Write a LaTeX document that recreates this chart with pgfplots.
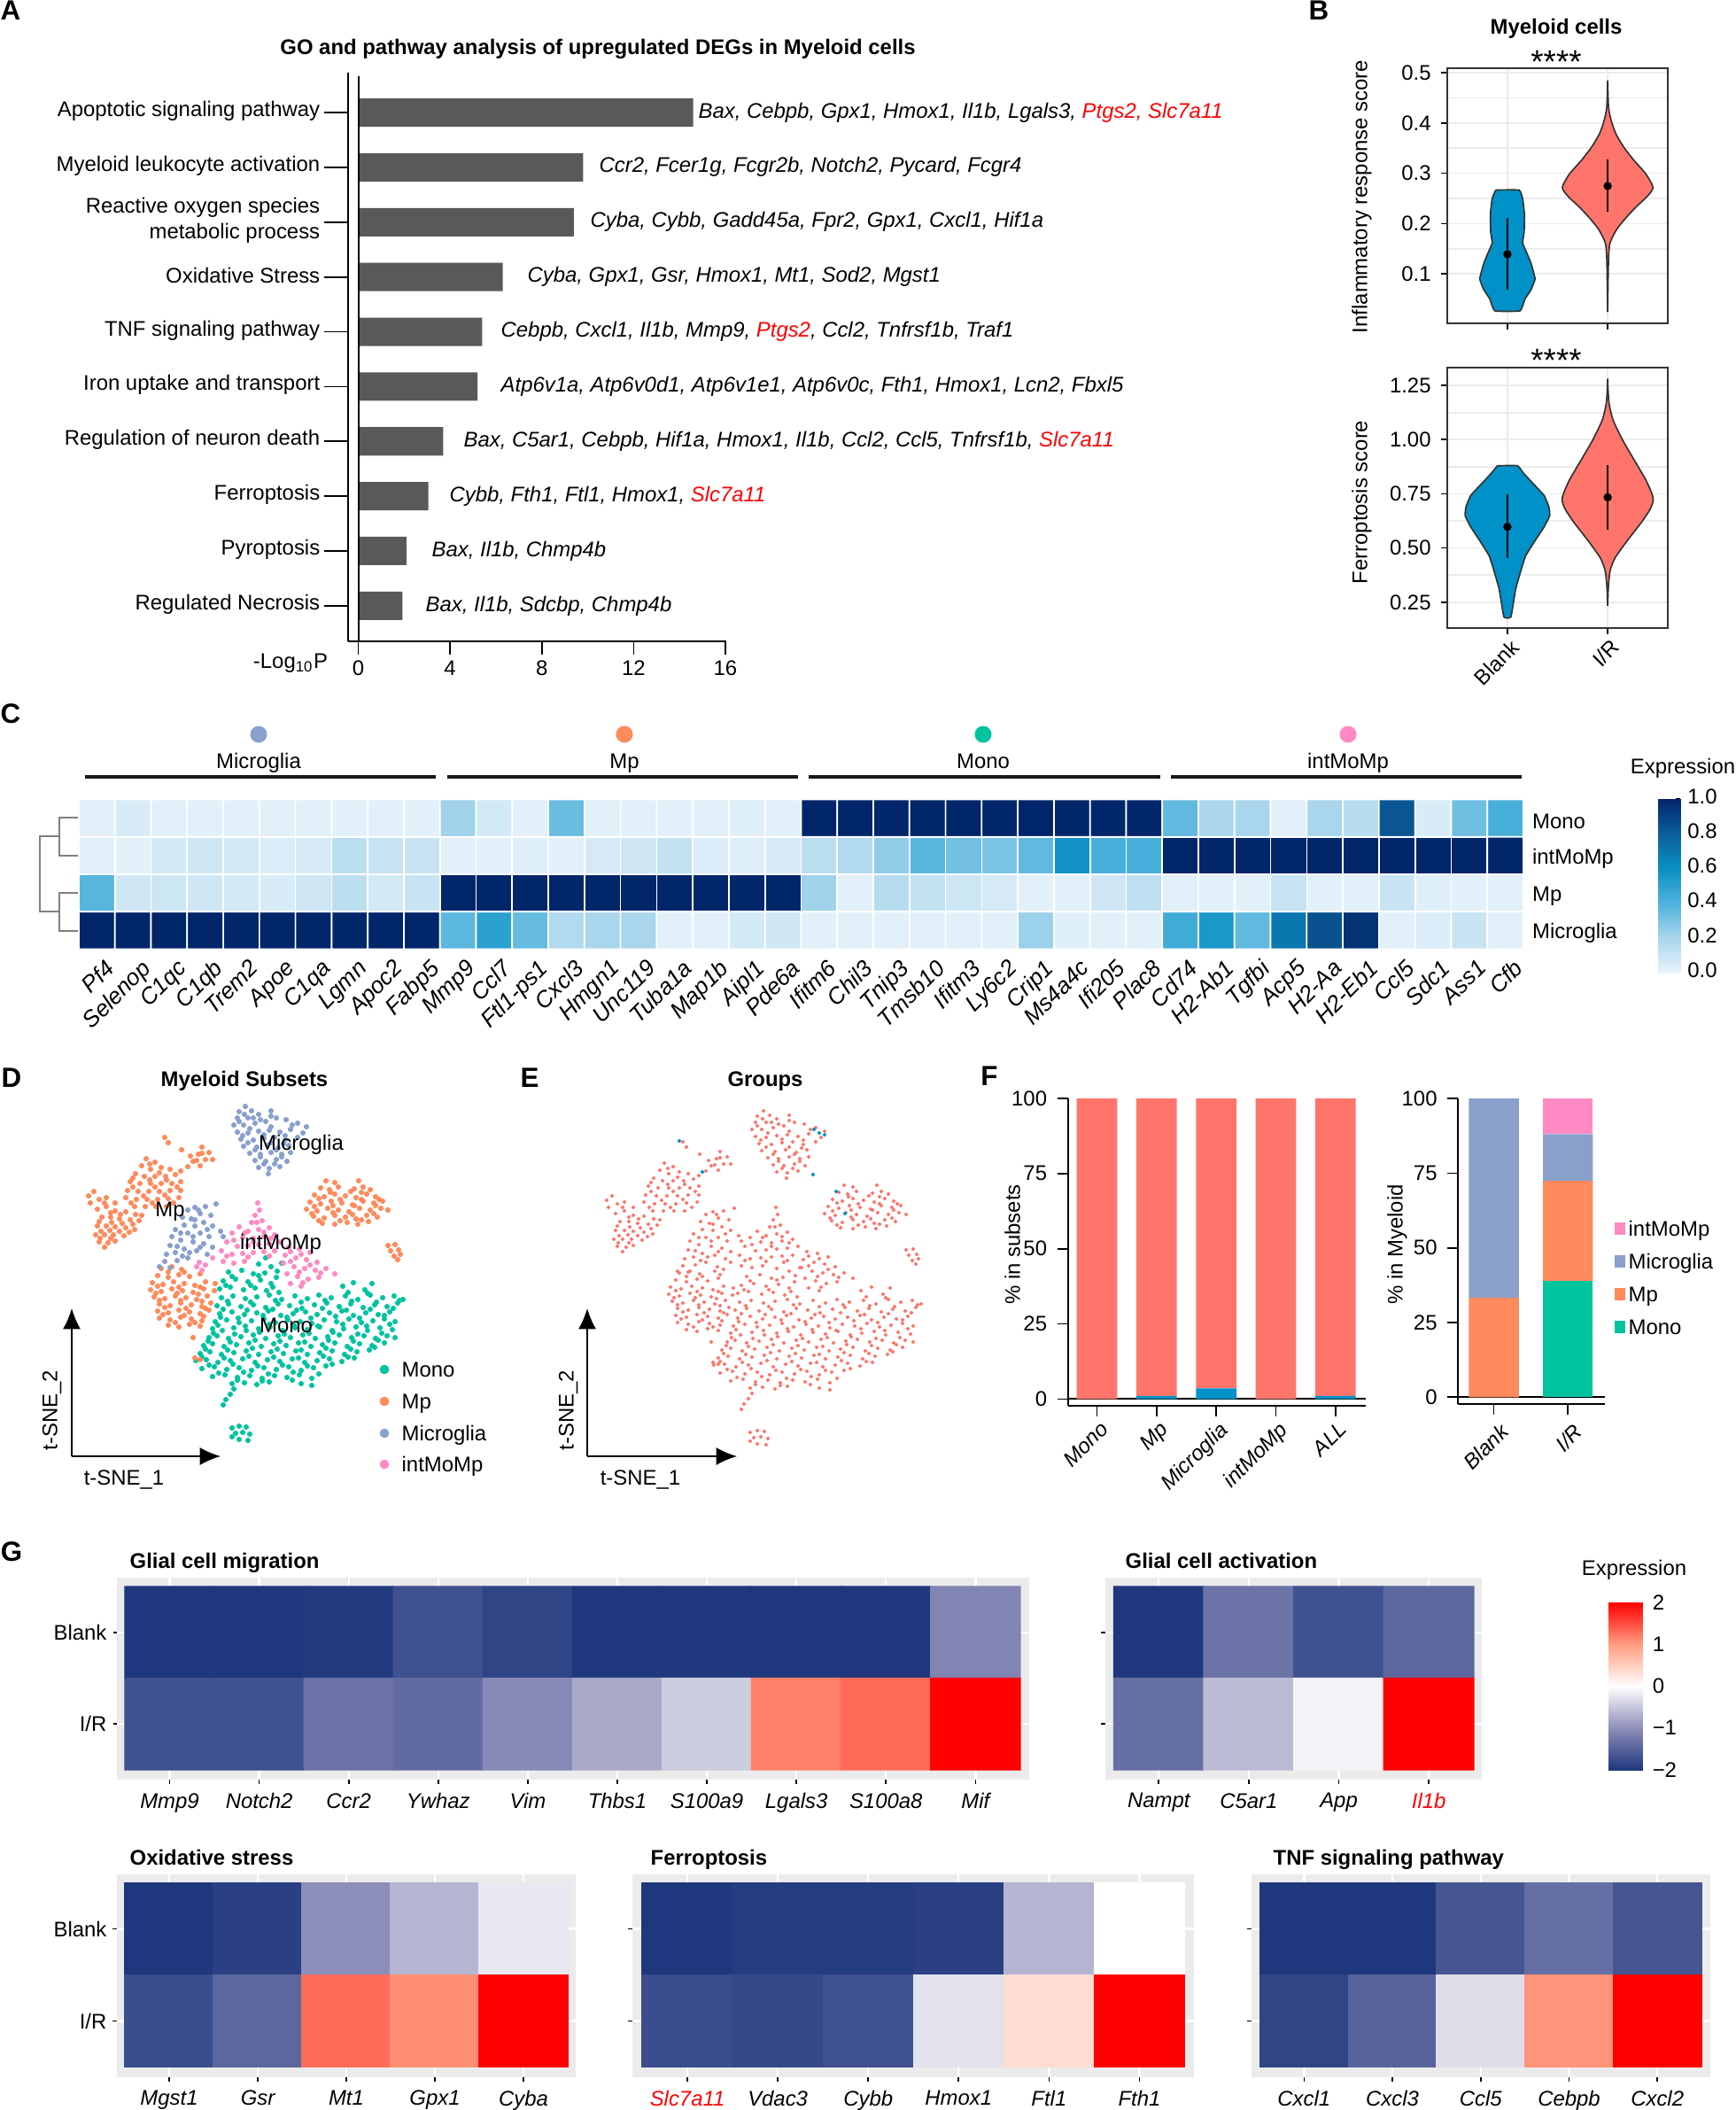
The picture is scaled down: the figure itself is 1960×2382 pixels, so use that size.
\documentclass[border=0pt]{standalone}
\usepackage{fontspec}
\setmainfont{Liberation Sans}
\usepackage{pgfplots}
\usepackage{pgfplotstable}
\pgfplotsset{compat=1.18}
\usetikzlibrary{arrows.meta}
\newcommand\fs{\fontsize{7.17}{8.6}\selectfont}
\definecolor{cmono}{HTML}{00C3A0}
\definecolor{cmp}{HTML}{FF8A5C}
\definecolor{cmic}{HTML}{8AA0CC}
\definecolor{cint}{HTML}{FF8AC3}
\definecolor{vblue}{HTML}{0091C8}
\definecolor{vred}{HTML}{FF756B}
\definecolor{dkbar}{HTML}{595959}
\definecolor{bgg}{HTML}{EBEBEB}
\pgfplotsset{
  /pgf/number format/assume math mode=true,
  tick label style={font=\fs},
  tick style={black,line width=.5pt},
  colormap={blues}{rgb255=(232,243,251) rgb255=(169,214,236) rgb255=(79,178,220) rgb255=(10,144,196) rgb255=(12,95,154) rgb255=(2,38,106)},
  colormap={rdbu}{rgb255=(31,56,125) rgb255=(141,141,185) rgb255=(255,255,255) rgb255=(255,156,128) rgb255=(255,0,0)},
  box/.style n args={4}{scale only axis,anchor=south west,
    at={({#1*0.3pt},{-#4*0.3pt})},width={(#3-#1)*0.3pt},height={(#4-#2)*0.3pt}},
  hm/.style={colormap name=rdbu,point meta min=-2,point meta max=2,y dir=reverse,
    axis background/.style={fill=bgg},grid=major,grid style={white,line width=.7pt},
    axis line style={draw=none},tick align=outside,major tick length=1.5pt,
    ytick={0,1},ymin=-.597,ymax=1.606,xtick pos=bottom,ytick pos=left,
    xticklabel style={font=\fs\itshape,yshift=.4pt},yticklabel style={xshift=1.4pt},clip=false},
  vio/.style={xmin=-.6,xmax=1.6,xtick={0,1},minor y tick num=1,ymajorgrids,yminorgrids,xmajorgrids,
    grid style={bgg,line width=.5pt},minor tick length=0pt,axis line style={line width=.6pt,black!80},
    tick align=outside,major tick length=2pt,xtick pos=bottom,ytick pos=left,clip=false},
  stk/.style={ybar stacked,axis lines*=left,tick align=outside,major tick length=3.5pt,
    axis line style={line width=.6pt},ymax=100,xtick pos=bottom,ytick pos=left,
    ytick={0,25,50,75,100},clip=false,
    xticklabel style={font=\fs\itshape,rotate=45,anchor=north east}},
}
\newcommand\hmap[2]{\addplot[matrix plot*,mesh/cols=#1,point meta=explicit]
  table[x expr={mod(\coordindex,#1)},y expr={floor((\coordindex+.5)/#1)},meta=z,row sep=\\]{z\\#2};}

\pgfplotstableread[row sep=\\]{x y\\
300 1420\\ 292 1427\\ 306 1430\\ 318 1426\\ 258 1436\\ 273 1434\\ 286 1438\\ 299 1437\\ 313 1435\\ 252 1446\\ 266 1444\\ 280 1447\\ 294 1445\\ 306 1449\\ 248 1455\\ 260 1453\\ 275 1456\\ 288 1454\\ 301 1457\\ 315 1459\\ 387 1452\\ 399 1448\\ 412 1456\\ 420 1449\\
250 1465\\ 263 1463\\ 277 1466\\ 290 1464\\ 304 1462\\ 318 1467\\ 333 1463\\ 347 1466\\ 360 1462\\ 374 1465\\ 390 1463\\ 404 1467\\ 418 1462\\ 432 1465\\ 445 1463\\ 455 1467\\
245 1474\\ 258 1472\\ 272 1475\\ 286 1473\\ 300 1476\\ 314 1472\\ 327 1474\\ 341 1477\\ 355 1473\\ 369 1471\\ 383 1475\\ 396 1472\\ 410 1476\\ 423 1473\\ 437 1475\\ 449 1471\\
248 1483\\ 262 1481\\ 276 1484\\ 290 1482\\ 303 1480\\ 317 1485\\ 331 1483\\ 345 1481\\ 358 1484\\ 372 1482\\ 386 1480\\ 399 1485\\ 413 1482\\ 427 1484\\ 440 1481\\
243 1492\\ 256 1490\\ 270 1493\\ 284 1491\\ 298 1489\\ 311 1493\\ 325 1490\\ 339 1492\\ 352 1494\\ 366 1490\\ 380 1492\\ 394 1489\\ 408 1493\\ 421 1491\\ 434 1489\\ 446 1492\\
240 1500\\ 251 1502\\ 264 1499\\ 278 1502\\ 292 1500\\ 305 1498\\ 319 1502\\ 333 1499\\ 347 1501\\ 361 1498\\ 375 1502\\ 388 1500\\ 402 1498\\ 415 1502\\ 429 1499\\ 443 1501\\
236 1510\\ 245 1508\\ 258 1511\\ 272 1509\\ 286 1507\\ 300 1511\\ 314 1508\\ 328 1510\\ 342 1507\\ 356 1511\\ 370 1509\\ 383 1507\\ 397 1510\\ 411 1508\\ 424 1511\\ 437 1508\\ 446 1510\\
230 1519\\ 240 1517\\ 253 1520\\ 267 1518\\ 281 1516\\ 295 1520\\ 309 1517\\ 323 1519\\ 337 1516\\ 351 1520\\ 364 1518\\ 378 1516\\ 392 1520\\ 406 1517\\ 420 1519\\ 434 1516\\
226 1528\\ 237 1526\\ 250 1529\\ 264 1527\\ 278 1525\\ 292 1529\\ 306 1526\\ 320 1528\\ 334 1525\\ 347 1529\\ 361 1527\\ 375 1525\\ 389 1529\\ 403 1526\\ 417 1524\\
221 1536\\ 233 1535\\ 246 1538\\ 260 1536\\ 274 1534\\ 288 1538\\ 302 1535\\ 316 1537\\ 330 1534\\ 344 1538\\ 358 1536\\ 372 1534\\ 386 1537\\ 400 1533\\
228 1545\\ 242 1543\\ 256 1546\\ 270 1544\\ 284 1547\\ 298 1544\\ 312 1546\\ 326 1543\\ 340 1547\\ 354 1544\\ 368 1542\\
240 1554\\ 254 1552\\ 268 1555\\ 282 1553\\ 296 1556\\ 310 1553\\ 324 1555\\ 338 1552\\ 352 1556\\ 262 1562\\ 276 1561\\ 290 1563\\ 304 1560\\ 340 1562\\ 352 1564\\
264 1568\\ 260 1574\\ 255 1580\\ 252 1586\\ 262 1612\\ 270 1610\\ 278 1611\\ 266 1618\\ 274 1617\\ 282 1619\\ 270 1625\\ 280 1626\\ 262 1622\\
257 1469\\ 283 1470\\ 311 1468\\ 340 1470\\ 367 1468\\ 397 1469\\ 425 1470\\ 451 1468\\ 252 1478\\ 279 1479\\ 308 1478\\ 335 1479\\ 364 1477\\ 391 1479\\ 418 1478\\ 444 1477\\ 249 1487\\ 269 1488\\ 297 1485\\ 324 1487\\ 351 1488\\ 379 1486\\ 406 1488\\ 434 1485\\ 246 1496\\ 277 1497\\ 304 1495\\ 332 1496\\ 359 1497\\ 387 1495\\ 414 1497\\ 440 1495\\ 241 1505\\ 265 1506\\ 293 1504\\ 321 1506\\ 349 1505\\ 376 1504\\ 404 1506\\ 431 1505\\ 235 1514\\ 260 1515\\ 288 1513\\ 316 1514\\ 344 1515\\ 371 1513\\ 399 1514\\ 427 1513\\ 232 1523\\ 257 1524\\ 285 1522\\ 313 1523\\ 340 1524\\ 368 1522\\ 396 1523\\ 423 1521\\ 228 1532\\ 253 1533\\ 281 1531\\ 309 1532\\ 337 1533\\ 365 1531\\ 393 1532\\ 236 1541\\ 263 1540\\ 291 1542\\ 319 1541\\ 347 1542\\ 375 1540\\ 247 1550\\ 275 1549\\ 303 1551\\ 331 1549\\ 360 1551\\ 268 1558\\ 296 1559\\ 330 1558\\ 262 1441\\ 292 1440\\ 312 1442\\ 255 1451\\ 283 1451\\ 308 1453\\ 393 1459\\ 415 1460\\
}\tmono
\pgfplotstableread[row sep=\\]{x y\\
186 1284\\ 190 1290\\ 205 1298\\ 228 1295\\ 236 1301\\ 224 1303\\ 232 1309\\ 240 1309\\ 218 1311\\ 226 1316\\ 212 1317\\ 204 1322\\ 165 1308\\ 175 1312\\ 160 1316\\ 170 1320\\ 182 1318\\ 192 1320\\ 153 1325\\ 163 1328\\ 175 1328\\ 187 1328\\ 198 1326\\ 147 1334\\ 158 1336\\ 170 1336\\ 182 1336\\ 194 1336\\ 204 1334\\ 144 1344\\ 156 1345\\ 168 1345\\ 180 1345\\ 192 1344\\ 204 1344\\ 142 1352\\ 154 1354\\ 166 1354\\ 178 1354\\ 190 1353\\ 202 1352\\ 100 1350\\ 106 1345\\ 112 1354\\ 102 1358\\ 120 1352\\ 130 1358\\ 152 1362\\ 164 1362\\ 176 1362\\ 188 1362\\ 110 1365\\ 120 1362\\ 130 1367\\ 142 1368\\ 160 1372\\ 115 1374\\ 125 1374\\ 135 1376\\ 147 1377\\ 157 1378\\ 110 1384\\ 120 1384\\ 130 1385\\ 142 1386\\ 152 1388\\ 108 1394\\ 118 1394\\ 128 1394\\ 140 1395\\ 112 1402\\ 122 1403\\ 130 1401\\ 118 1408\\
368 1333\\ 378 1335\\ 405 1333\\ 362 1341\\ 372 1343\\ 382 1340\\ 400 1342\\ 410 1340\\ 418 1343\\ 355 1349\\ 366 1351\\ 378 1348\\ 390 1350\\ 402 1352\\ 414 1348\\ 424 1351\\ 350 1357\\ 362 1359\\ 374 1356\\ 386 1358\\ 398 1360\\ 410 1356\\ 422 1358\\ 432 1356\\ 346 1365\\ 358 1367\\ 370 1364\\ 382 1366\\ 394 1368\\ 406 1364\\ 418 1366\\ 430 1364\\ 438 1366\\ 354 1373\\ 366 1375\\ 378 1372\\ 390 1374\\ 402 1376\\ 414 1372\\ 426 1374\\ 364 1381\\ 378 1382\\ 392 1380\\ 404 1382\\ 416 1379\\
438 1406\\ 446 1405\\ 441 1412\\ 450 1411\\ 445 1418\\ 452 1416\\ 449 1422\\
182 1432\\ 194 1430\\ 205 1433\\ 178 1440\\ 190 1442\\ 202 1439\\ 214 1441\\ 226 1438\\ 172 1448\\ 184 1450\\ 196 1447\\ 208 1449\\ 220 1451\\ 232 1447\\ 243 1449\\ 170 1456\\ 182 1458\\ 194 1455\\ 206 1457\\ 218 1459\\ 230 1455\\ 242 1457\\ 174 1464\\ 186 1466\\ 198 1463\\ 210 1465\\ 222 1467\\ 234 1463\\ 180 1472\\ 192 1474\\ 204 1471\\ 216 1473\\ 228 1475\\ 238 1471\\ 178 1480\\ 190 1482\\ 202 1479\\ 214 1481\\ 226 1483\\ 236 1479\\ 180 1488\\ 192 1490\\ 204 1487\\ 216 1489\\ 228 1491\\ 190 1496\\ 202 1498\\ 214 1495\\ 226 1497\\ 218 1510\\ 220 1533\\ 226 1535\\
150 1330\\ 169 1332\\ 188 1332\\ 200 1340\\ 150 1340\\ 175 1340\\ 162 1350\\ 186 1349\\ 148 1358\\ 172 1358\\ 196 1358\\ 118 1358\\ 125 1369\\ 136 1371\\ 153 1371\\ 112 1379\\ 126 1380\\ 138 1381\\ 150 1382\\ 114 1390\\ 124 1389\\ 135 1390\\ 146 1391\\ 113 1398\\ 125 1398\\ 180 1324\\ 169 1314\\ 215 1305\\ 228 1302\\ 222 1310\\ 373 1346\\ 396 1345\\ 408 1346\\ 360 1353\\ 384 1354\\ 408 1354\\ 428 1354\\ 355 1362\\ 376 1361\\ 400 1361\\ 424 1361\\ 352 1370\\ 376 1369\\ 398 1371\\ 422 1370\\ 360 1378\\ 384 1378\\ 408 1377\\ 190 1436\\ 208 1436\\ 178 1452\\ 202 1453\\ 226 1453\\ 176 1460\\ 200 1460\\ 224 1461\\ 180 1468\\ 204 1468\\ 228 1469\\ 186 1476\\ 210 1477\\ 232 1477\\ 184 1484\\ 208 1485\\ 230 1486\\ 198 1493\\ 220 1493\\
}\tmp
\pgfplotstableread[row sep=\\]{x y\\
277 1249\\ 270 1255\\ 284 1254\\ 268 1262\\ 280 1262\\ 292 1258\\ 306 1254\\ 264 1270\\ 275 1270\\ 288 1268\\ 300 1266\\ 312 1262\\ 323 1264\\ 336 1268\\ 346 1272\\ 268 1278\\ 280 1279\\ 292 1277\\ 304 1276\\ 316 1278\\ 328 1275\\ 342 1279\\ 272 1286\\ 286 1287\\ 298 1285\\ 310 1284\\ 322 1287\\ 336 1284\\ 275 1294\\ 290 1295\\ 302 1293\\ 314 1296\\ 326 1293\\ 282 1302\\ 294 1303\\ 306 1301\\ 318 1303\\ 328 1301\\ 288 1310\\ 300 1311\\ 312 1309\\ 324 1311\\ 292 1318\\ 304 1319\\ 316 1317\\ 303 1325\\
244 1359\\ 232 1362\\ 220 1363\\ 212 1366\\ 226 1370\\ 238 1372\\ 216 1376\\ 206 1374\\ 230 1380\\ 240 1384\\ 220 1384\\ 208 1383\\ 198 1388\\ 212 1392\\ 226 1392\\ 236 1396\\ 194 1396\\ 204 1400\\ 218 1402\\ 230 1404\\ 240 1408\\ 192 1406\\ 208 1410\\ 222 1412\\ 234 1416\\ 198 1414\\ 188 1416\\ 212 1420\\ 200 1423\\ 186 1424\\ 180 1430\\ 192 1431\\ 249 1390\\ 252 1396\\
276 1258\\ 286 1262\\ 270 1266\\ 294 1264\\ 306 1260\\ 282 1274\\ 306 1272\\ 330 1270\\ 274 1282\\ 298 1281\\ 322 1282\\ 280 1290\\ 306 1290\\ 320 1291\\ 288 1298\\ 312 1298\\ 294 1306\\ 318 1306\\ 298 1314\\ 310 1314\\ 224 1366\\ 220 1377\\ 234 1388\\ 204 1392\\ 218 1396\\ 200 1407\\ 226 1408\\ 214 1414\\ 206 1418\\
}\tmic
\pgfplotstableread[row sep=\\]{x y\\
291 1358\\ 293 1366\\ 288 1372\\ 296 1378\\ 284 1380\\ 270 1385\\ 280 1390\\ 292 1388\\ 304 1386\\ 262 1392\\ 274 1397\\ 286 1398\\ 298 1396\\ 310 1394\\ 316 1402\\ 256 1402\\ 268 1407\\ 280 1406\\ 292 1405\\ 304 1404\\ 326 1408\\ 338 1410\\ 350 1414\\ 250 1412\\ 262 1416\\ 274 1415\\ 286 1414\\ 298 1413\\ 310 1412\\ 322 1417\\ 334 1420\\ 346 1422\\ 358 1425\\ 240 1420\\ 252 1424\\ 264 1426\\ 276 1424\\ 320 1426\\ 332 1430\\ 344 1432\\ 356 1434\\ 368 1432\\ 378 1438\\ 324 1438\\ 336 1441\\ 348 1444\\ 360 1442\\ 328 1449\\ 340 1452\\ 225 1425\\ 228 1434\\ 222 1430\\ 232 1428\\
290 1380\\ 276 1392\\ 298 1391\\ 264 1400\\ 286 1402\\ 306 1398\\ 256 1418\\ 280 1419\\ 304 1418\\ 328 1413\\ 340 1416\\ 328 1424\\ 350 1428\\ 338 1436\\ 362 1437\\ 342 1448\\
}\tint

\begin{document}
\begin{tikzpicture}[x=0.3pt,y=-0.3pt,txt/.style={font=\fs,inner sep=0pt,text height=.72em,text depth=.2em},gene/.style={font=\fs\itshape,inner sep=0pt,anchor=west,text height=.72em,text depth=.2em},lab/.style={font=\fontsize{9.4}{10}\selectfont\bfseries,inner sep=0pt}]
\useasboundingbox (0,0) rectangle (1960,2382);

% A
\begin{axis}[box={393}{82}{820.5}{724},xbar,bar width=0.518,xmin=-.444,xmax=16.06,ymin=-.65,ymax=9.73,
  axis lines*=left,axis line style={line width=.6pt},tick align=outside,major tick length=4.5pt,
  xtick={0,4,8,12,16},xticklabels={0,4,8,12\hspace{4pt},16\hspace{4pt}},xticklabel style={yshift=1.5pt},ytick={0,...,9},clip=false,
  yticklabels={Regulated Necrosis,Pyroptosis,Ferroptosis,Regulation of neuron death,Iron uptake and transport,TNF signaling pathway,Oxidative Stress,{\raisebox{-4.1pt}{\begin{tabular}{@{}r@{}}Reactive oxygen species\\metabolic process\end{tabular}}},Myeloid leukocyte activation,Apoptotic signaling pathway},
  yticklabel style={align=right,yshift=.5pt,xshift=-1.5pt}]
\addplot[fill=dkbar,draw=none] coordinates {(1.93,0)(2.1,1)(3.05,2)(3.7,3)(5.2,4)(5.4,5)(6.3,6)(9.4,7)(9.8,8)(14.6,9)};
\draw[line width=.6pt] (axis cs:0,-.65) -- (axis cs:0,9.66);
\foreach \k in {0,...,9}{\edef\tmpd{\noexpand\draw[line width=.5pt] (axis cs:-.444,\k) -- ([xshift=-8pt]axis cs:-.444,\k);}\tmpd}
\end{axis}
\node[txt,font=\fs\bfseries] at (675,53) {GO and pathway analysis of upregulated DEGs in Myeloid cells};
\node[gene] at (788,125) {Bax, Cebpb, Gpx1, Hmox1, Il1b, Lgals3, \textcolor{red}{Ptgs2, Slc7a11}};
\node[gene] at (676,186) {Ccr2, Fcer1g, Fcgr2b, Notch2, Pycard, Fcgr4};
\node[gene] at (666,248) {Cyba, Cybb, Gadd45a, Fpr2, Gpx1, Cxcl1, Hif1a};
\node[gene] at (595,310) {Cyba, Gpx1, Gsr, Hmox1, Mt1, Sod2, Mgst1};
\node[gene] at (565,372) {Cebpb, Cxcl1, Il1b, Mmp9, \textcolor{red}{Ptgs2}, Ccl2, Tnfrsf1b, Traf1};
\node[gene] at (565,434) {Atp6v1a, Atp6v0d1, Atp6v1e1, Atp6v0c, Fth1, Hmox1, Lcn2, Fbxl5};
\node[gene] at (523,496) {Bax, C5ar1, Cebpb, Hif1a, Hmox1, Il1b, Ccl2, Ccl5, Tnfrsf1b, \textcolor{red}{Slc7a11}};
\node[gene] at (507,558) {Cybb, Fth1, Ftl1, Hmox1, \textcolor{red}{Slc7a11}};
\node[gene] at (487,620) {Bax, Il1b, Chmp4b};
\node[gene] at (480,682) {Bax, Il1b, Sdcbp, Chmp4b};
\node[txt] at (328,746) {-Log\textsubscript{10}P};

% B
\begin{axis}[box={1634}{77}{1883}{365},vio,ymin=.0016,ymax=.509,ytick={.1,.2,.3,.4,.5},yticklabels={0.1,0.2,0.3,0.4,0.5},xticklabels={,}]
\addplot[fill=vblue,draw=black!80,line width=.5pt,smooth,tension=.2] coordinates {(-.117,.2667)(-.152,.2499)(-.170,.2188)(-.167,.1834)(-.152,.1612)(-.199,.139)(-.235,.1213)(-.276,.0902)(-.235,.0681)(-.176,.0503)(-.126,.0264)(.126,.0264)(.176,.0503)(.235,.0681)(.276,.0902)(.235,.1213)(.199,.139)(.152,.1612)(.167,.1834)(.170,.2188)(.152,.2499)(.117,.2667)(-.117,.2667)};
\addplot[fill=vred,draw=black!80,line width=.5pt,smooth,tension=.4] coordinates {(1,.485)(.991,.4317)(.965,.405)(.918,.3785)(.839,.3519)(.736,.3253)(.619,.2987)(.548,.272)(.604,.2543)(.721,.2322)(.824,.21)(.912,.1878)(.977,.1612)(.991,.1302)(.997,.068)(1,.0237)(1.003,.068)(1.009,.1302)(1.023,.1612)(1.088,.1878)(1.176,.21)(1.279,.2322)(1.396,.2543)(1.452,.272)(1.381,.2987)(1.264,.3253)(1.161,.3519)(1.082,.3785)(1.035,.405)(1.009,.4317)(1,.485)};
\addplot[black,line width=.7pt] coordinates {(0,.2117)(0,.068)};
\addplot[black,line width=.7pt] coordinates {(1,.327)(1,.2233)};
\addplot[only marks,mark=*,mark size=1.2pt,black] coordinates {(0,.139)(1,.2747)};
\end{axis}
\begin{axis}[box={1634}{415}{1883}{709},vio,ymin=.1307,ymax=1.332,ytick={.25,.5,.75,1,1.25},yticklabels={0.25,0.50,0.75,1.00,1.25},xticklabels={Blank,I/R},xticklabel style={rotate=45,anchor=north east,xshift=3pt,yshift=2pt}]
\addplot[fill=vblue,draw=black!80,line width=.5pt,smooth,tension=.2] coordinates {(-.100,.8796)(-.161,.8447)(-.264,.7932)(-.367,.7418)(-.413,.6903)(-.422,.6492)(-.367,.5977)(-.279,.536)(-.182,.464)(-.132,.392)(-.082,.3097)(-.035,.182)(.035,.182)(.082,.3097)(.132,.392)(.182,.464)(.279,.536)(.367,.5977)(.422,.6492)(.413,.6903)(.367,.7418)(.264,.7932)(.161,.8447)(.100,.8796)(-.100,.8796)};
\addplot[fill=vred,draw=black!80,line width=.5pt,smooth,tension=.4] coordinates {(1,1.281)(.988,1.174)(.947,1.0916)(.853,1.0)(.736,.9064)(.619,.8138)(.56,.752)(.545,.7212)(.575,.68)(.663,.6183)(.801,.536)(.927,.4537)(.977,.392)(.994,.3097)(1,.2335)(1.006,.3097)(1.023,.392)(1.073,.4537)(1.199,.536)(1.337,.6183)(1.425,.68)(1.455,.7212)(1.44,.752)(1.381,.8138)(1.264,.9064)(1.147,1.0)(1.053,1.0916)(1.012,1.174)(1,1.281)};
\addplot[black,line width=.7pt] coordinates {(0,.748)(0,.4537)};
\addplot[black,line width=.7pt] coordinates {(1,.8817)(1,.5854)};
\addplot[only marks,mark=*,mark size=1.2pt,black] coordinates {(0,.5977)(1,.7335)};
\end{axis}
\node[txt,font=\fs\bfseries] at (1757,30) {Myeloid cells};
\node[inner sep=0pt,font=\fontsize{11}{12}\selectfont] at (1757,70) {****};
\node[inner sep=0pt,font=\fontsize{11}{12}\selectfont] at (1757,407) {****};
\node[txt,rotate=90] at (1535,222) {Inflammatory response score};
\node[txt,rotate=90] at (1535,567) {Ferroptosis score};

% C
\begin{axis}[box={89}{902.5}{1720}{1071.5},colormap name=blues,point meta min=0,point meta max=1,
  y dir=reverse,xmin=-.5,xmax=39.5,ymin=-.5,ymax=3.5,axis line style={draw=none},major tick length=0pt,
  xtick={0,...,39},ytick={0,1,2,3},yticklabel pos=right,yticklabels={Mono,intMoMp,Mp,Microglia},
  yticklabel style={xshift=-.5pt,yshift=-1pt},
  xticklabels={Pf4,Selenop,C1qc,C1qb,Trem2,Apoe,C1qa,Lgmn,Apoc2,Fabp5,Mmp9,Ccl7,Ftl1-ps1,Cxcl3,Hmgn1,Unc119,Tuba1a,Map1b,Aipl1,Pde6a,Ifitm6,Chil3,Tnip3,Tmsb10,Ifitm3,Ly6c2,Crip1,Ms4a4c,Ifi205,Plac8,Cd74,H2-Ab1,Tgfbi,Acp5,H2-Aa,H2-Eb1,Ccl5,Sdc1,Ass1,Cfb},
  xticklabel style={font=\fontsize{7.8}{9}\selectfont\itshape,rotate=45,anchor=north east,xshift=3pt,yshift=-.3pt},clip=false]
\addplot[matrix plot*,mesh/cols=40,point meta=explicit,draw=white,line width=.5pt]
  table[x expr={mod(\coordindex,40)},y expr={floor((\coordindex+.5)/40)},meta=z,row sep=\\]{z\\
.02\\.05\\.02\\.02\\.02\\.02\\.02\\.02\\.02\\.02\\.22\\.07\\.02\\.34\\.02\\.02\\.02\\.02\\.03\\.02\\1\\1\\1\\1\\1\\1\\1\\1\\1\\1\\.36\\.19\\.2\\.02\\.2\\.15\\.83\\.05\\.33\\.42\\
.02\\.02\\.07\\.08\\.07\\.04\\.05\\.14\\.11\\.1\\.02\\.02\\.03\\.02\\.06\\.08\\.12\\.04\\.03\\.05\\.14\\.17\\.25\\.38\\.32\\.3\\.36\\.58\\.42\\.42\\1\\1\\1\\1\\1\\1\\1\\1\\1\\1\\
.38\\.08\\.09\\.08\\.07\\.05\\.08\\.14\\.07\\.1\\1\\1\\1\\1\\1\\1\\1\\1\\1\\1\\.22\\.02\\.16\\.12\\.09\\.06\\.02\\.02\\.08\\.13\\.02\\.02\\.02\\.11\\.02\\.02\\.1\\.03\\.02\\.02\\
1\\1\\1\\1\\1\\1\\1\\1\\1\\1\\.37\\.5\\.35\\.17\\.2\\.2\\.02\\.02\\.07\\.08\\.02\\.02\\.02\\.02\\.02\\.02\\.23\\.03\\.02\\.02\\.44\\.55\\.36\\.7\\.85\\.95\\.02\\.04\\.1\\.02\\
};
\end{axis}
\foreach \a/\b/\c/\t/\d in {96/492/292/Microglia/cmic,505/901/705/Mp/cmp,913/1310/1110/Mono/cmono,1322/1718/1522/intMoMp/cint}{
  \draw[line width=1pt,black!90] (\a,877) -- (\b,877);
  \node[txt] at (\c,859) {\t};
  \fill[\d] (\c,829) circle[radius=2.85pt];
}
\draw[gray,line width=.7pt] (88,923)--(67,923)--(67,966)--(88,966) (88,1008)--(67,1008)--(67,1051)--(88,1051) (67,944)--(45,944)--(45,1029)--(67,1029);
\begin{axis}[box={1872}{902}{1897}{1098},axis x line=none,axis y line*=right,ymin=0,ymax=1,xmin=0,xmax=1,
  colormap name=blues,point meta min=0,point meta max=1,ytick={0,.2,.4,.6,.8,1},yticklabels={0.0,0.2,0.4,0.6,0.8,1.0},
  major tick length=1.5pt,yticklabel style={xshift=-1pt,yshift=.9pt}]
\addplot[surf,shader=interp,mesh/cols=2,point meta=explicit] coordinates {(0,0)[0](1,0)[0](0,1)[1](1,1)[1]};
\end{axis}
\node[txt] at (1900,865) {Expression};

% D
\begin{axis}[box={0}{1235}{500}{1640},hide axis,xmin=0,xmax=500,ymin=1235,ymax=1640,y dir=reverse,clip=false]
\addplot[only marks,mark=*,mark size=.7pt,cmono] table {\tmono};
\addplot[only marks,mark=*,mark size=.7pt,cmp] table {\tmp};
\addplot[only marks,mark=*,mark size=.7pt,cmic] table {\tmic};
\addplot[only marks,mark=*,mark size=.7pt,cint] table {\tint};
\end{axis}
\node[txt] at (340,1290) {Microglia};
\node[txt] at (192,1365) {Mp};
\node[txt] at (317,1402) {intMoMp};
\node[txt] at (323,1496) {Mono};
\node[txt,font=\fs\bfseries] at (276,1218) {Myeloid Subsets};
\foreach \yy/\t/\d in {1546/Mono/cmono,1582/Mp/cmp,1618/Microglia/cmic,1653/intMoMp/cint}{
  \fill[\d] (434,\yy) circle[radius=1.6pt];
  \node[txt,anchor=west] at (453,\yy) {\t};
}
\draw[line width=.5pt,-{Latex[length=7pt,width=6pt]}] (81,1644) -- (81,1477);
\draw[line width=.5pt,-{Latex[length=7pt,width=6pt]}] (81,1644) -- (249,1644);
\node[txt,rotate=90] at (56,1592) {t-SNE\_2};
\node[txt] at (140,1668) {t-SNE\_1};

% E
\begin{axis}[box={585}{1240}{1085}{1645},hide axis,xmin=0,xmax=500,ymin=1235,ymax=1640,y dir=reverse,clip=false]
\addplot[only marks,mark=*,mark size=.45pt,vred] table {\tmono};
\addplot[only marks,mark=*,mark size=.45pt,vred] table {\tmp};
\addplot[only marks,mark=*,mark size=.45pt,vred] table {\tmic};
\addplot[only marks,mark=*,mark size=.45pt,vred] table {\tint};
\addplot[only marks,mark=*,mark size=.45pt,vblue] coordinates {(334,1270)(340,1274)(346,1276)(182,1283)(208,1318)(333,1321)(359,1340)(369,1365)};
\end{axis}
\node[txt,font=\fs\bfseries] at (864,1218) {Groups};
\draw[line width=.5pt,-{Latex[length=7pt,width=6pt]}] (663,1644) -- (663,1477);
\draw[line width=.5pt,-{Latex[length=7pt,width=6pt]}] (663,1644) -- (832,1644);
\node[txt,rotate=90] at (639,1592) {t-SNE\_2};
\node[txt] at (723,1668) {t-SNE\_1};

% F
\begin{axis}[box={1205.5}{1240}{1541.5}{1587},stk,bar width=.68,xmin=-.49,xmax=4.5,ymin=-2.26,xtick={0,...,4},xticklabels={Mono,Mp,Microglia,intMoMp,ALL},xticklabel style={xshift=3pt,yshift=2pt}]
\addplot[fill=vblue,draw=none] coordinates {(0,0)(1,1)(2,3.5)(3,0)(4,1)};
\addplot[fill=vred,draw=none] coordinates {(0,100)(1,99)(2,96.5)(3,100)(4,99)};
\draw[line width=.6pt] (axis cs:-.49,0) -- (axis cs:4.5,0);
\end{axis}
\node[txt,rotate=90] at (1143,1405) {\% in subsets};
\begin{axis}[box={1646}{1240}{1812}{1585},stk,bar width=.674,xmin=-.486,xmax=1.5,ymin=-2.28,xtick={0,1},xticklabels={Blank,I/R},xticklabel style={xshift=2.7pt,yshift=.3pt}]
\addplot[fill=cmono,draw=none] coordinates {(0,0)(1,39)};
\addplot[fill=cmp,draw=none] coordinates {(0,33.3)(1,33.4)};
\addplot[fill=cmic,draw=none] coordinates {(0,66.7)(1,15.6)};
\addplot[fill=cint,draw=none] coordinates {(0,0)(1,12)};
\draw[line width=.6pt] (axis cs:-.486,0) -- (axis cs:1.5,0);
\end{axis}
\node[txt,rotate=90] at (1575,1405) {\% in Myeloid};
\foreach \yy/\t/\d in {1387/intMoMp/cint,1424/Microglia/cmic,1461/Mp/cmp,1498/Mono/cmono}{
  \fill[\d] (1822.5,\yy-7) rectangle (1835,\yy+7);
  \node[txt,anchor=west] at (1838,\yy) {\t};
}

% G
\begin{axis}[box={132.5}{1781}{1162}{2009},hm,xmin=-.584,xmax=9.6,xtick={0,...,9},yticklabels={Blank,I/R},
  xticklabels={Mmp9,Notch2,Ccr2,Ywhaz,Vim,Thbs1,S100a9,Lgals3,S100a8,Mif}]
\hmap{10}{-2\\-2\\-1.97\\-1.7\\-1.85\\-2\\-2\\-2\\-2\\-1.1\\-1.7\\-1.7\\-1.3\\-1.4\\-1.05\\-.75\\-.45\\1.19\\1.31\\2\\}
\end{axis}
\begin{axis}[box={1247.5}{1781}{1672.5}{2009},hm,xmin=-.598,xmax=3.584,xtick={0,...,3},yticklabels={,},
  xticklabels={Nampt,C5ar1,App,\textcolor{red}{Il1b}}]
\hmap{4}{-2\\-1.3\\-1.7\\-1.45\\-1.35\\-.6\\-.1\\2\\}
\end{axis}
\begin{axis}[box={132.5}{2115.5}{650}{2344.5},hm,xmin=-.585,xmax=4.59,xtick={0,...,4},yticklabels={Blank,I/R},
  xticklabels={Mgst1,Gsr,Mt1,Gpx1,Cyba}]
\hmap{5}{-2\\-1.9\\-1\\-.65\\-.2\\-1.75\\-1.45\\1.3\\1.1\\2\\}
\end{axis}
\begin{axis}[box={714}{2115.5}{1347.5}{2344.5},hm,xmin=-.608,xmax=5.598,xtick={0,...,5},yticklabels={,},
  xticklabels={\textcolor{red}{Slc7a11},Vdac3,Cybb,Hmox1,Ftl1,Fth1}]
\hmap{6}{-2\\-1.95\\-1.95\\-1.9\\-.65\\0\\-1.75\\-1.8\\-1.7\\-.25\\.35\\2\\}
\end{axis}
\begin{axis}[box={1412.5}{2115.5}{1931}{2344.5},hm,xmin=-.6,xmax=4.6,xtick={0,...,4},yticklabels={,},
  xticklabels={Cxcl1,Cxcl3,Ccl5,Cebpb,Cxcl2}]
\hmap{5}{-2\\-2\\-1.65\\-1.35\\-1.65\\-1.85\\-1.5\\-.3\\1.05\\2\\}
\end{axis}
\foreach \xx/\yy/\t in {146/1762/Glial cell migration,1270/1762/Glial cell activation,146/2097/Oxidative stress,734/2097/Ferroptosis,1437/2097/TNF signaling pathway}{
  \node[txt,font=\fs\bfseries,anchor=west] at (\xx,\yy) {\t};
}
\begin{axis}[box={1816}{1809}{1854}{1998},colormap name=rdbu,point meta min=-2,point meta max=2,ymin=-2,ymax=2,xmin=0,xmax=1,
  axis line style={draw=none},xtick=\empty,ytick={-2,-1,0,1,2},yticklabels={−2,−1,0,1,2},ytick pos=right,yticklabel pos=right,
  major tick length=0pt]
\addplot[surf,shader=interp,mesh/cols=2,point meta=explicit] coordinates {(0,-2)[-2](1,-2)[-2](0,-1)[-1](1,-1)[-1](0,0)[0](1,0)[0](0,1)[1](1,1)[1](0,2)[2](1,2)[2]};
\end{axis}
\node[txt] at (1845,1770) {Expression};

% panel letters
\node[lab] at (12,12) {A};
\node[lab] at (1489,12) {B};
\node[lab] at (12,806) {C};
\node[lab] at (13,1217) {D};
\node[lab] at (598,1217) {E};
\node[lab] at (1117,1215) {F};
\node[lab] at (13,1752) {G};
\end{tikzpicture}
\end{document}
